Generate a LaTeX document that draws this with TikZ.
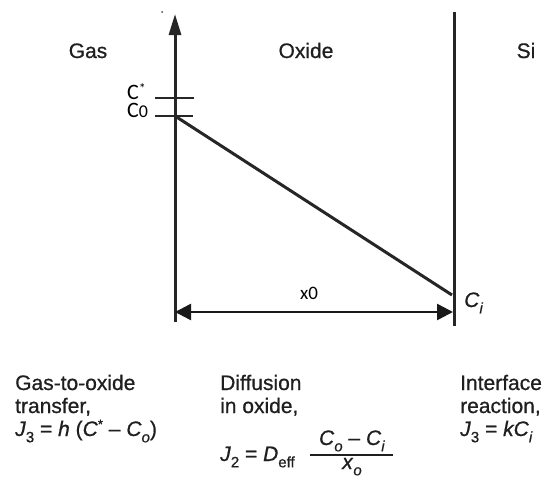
\documentclass[tikz,border=0pt]{standalone}
\usepackage{fontspec}
\setmainfont{Liberation Sans}[RawFeature={embolden=0.7}]
\newfontfamily\calfont{Carlito}
\usetikzlibrary{arrows.meta}
\newcommand{\sbs}[1]{\raisebox{-0.3em}{\fontsize{15}{15}\selectfont #1}}
\newcommand{\sps}[1]{\raisebox{0.35em}{\fontsize{13}{13}\selectfont #1}}
\begin{document}
\begin{tikzpicture}[x=1pt,y=-1pt,
  lbl/.style={font=\fontsize{21}{23}\selectfont, inner sep=0pt, text=black!88},
  ln/.style={lbl, anchor=base west},
  cal/.style={font=\calfont\fontsize{22}{24}\selectfont, inner sep=0pt, text=black},
  heavy/.style={line width=3pt, draw=black!85},
  tick/.style={line width=1.3pt, draw=black!85}]
\useasboundingbox (0,0) rectangle (547,479);
% axes
\coordinate (axB) at (175,322);
\coordinate (axT) at (175,14);
\coordinate (siT) at (454,12);
\coordinate (siB) at (454,326);
\draw[heavy, -{Triangle[length=21pt,width=12pt]}] (axB) -- (axT);
\draw[heavy] (siT) -- (siB);
\fill[black!70] (162,12) circle (1pt);
% ticks
\coordinate (csL) at (155,98); \coordinate (csR) at (194,98);
\coordinate (c0L) at (155,116); \coordinate (c0R) at (193,116);
\draw[tick] (csL) -- (csR);
\draw[tick] (c0L) -- (c0R);
% concentration line
\coordinate (p0) at (175,116);
\coordinate (pi) at (452,295);
\draw[heavy] (p0) -- (pi);
% dimension arrow
\coordinate (dL) at (175,312);
\coordinate (dR) at (453,312);
\draw[line width=2.5pt, draw=black!90, {Triangle[length=16pt,width=16pt]}-{Triangle[length=16pt,width=16pt]}] (dL) -- (dR);
% region labels
\node[lbl, anchor=base] (gas) at (88,58) {Gas};
\node[lbl, anchor=base] (oxide) at (306,58) {Oxide};
\node[lbl, anchor=base] (si) at (526,58) {Si};
% axis labels
\node[cal, anchor=base west] (cstar) at (127,99) {C\raisebox{0.25em}{\fontsize{14}{14}\selectfont *}};
\node[cal, anchor=base west] (czero) at (127,117) {C{\fontsize{18}{18}\selectfont 0}};
\node[cal, anchor=base west, font=\calfont\fontsize{19}{21}\selectfont] (xzero) at (300,299) {x0};
\node[ln] (ci) at (464,307) {\textit{C}\sbs{\textit{i}}};
% descriptions
\node[ln] (d1a) at (15,390) {Gas-to-oxide};
\node[ln] (d1b) at (15,413) {transfer,};
\node[ln] (d1c) at (15,436) {\textit{J}\sbs{3} = \textit{h} (\textit{C}\sps{*} -- \textit{C}\sbs{\textit{o}})};
\node[ln] (d2a) at (220,390) {Diffusion};
\node[ln] (d2b) at (220,413) {in oxide,};
\node[ln] (d3a) at (460,390) {Interface};
\node[ln] (d3b) at (460,413) {reaction,};
\node[ln] (d3c) at (460,436) {\textit{J}\sbs{3} = \textit{kC}\sbs{\textit{i}}};
\node[ln] (j2) at (220,461) {\textit{J}\sbs{2} = \textit{D}\sbs{eff}};
\node[lbl, anchor=base] (num) at (352,445) {\textit{C}\sbs{\textit{o}} -- \textit{C}\sbs{\textit{i}}};
\node[lbl, anchor=base] (den) at (352,469) {\textit{x}\sbs{\textit{o}}};
\coordinate (fL) at (310,455); \coordinate (fR) at (393,455);
\draw[line width=1.2pt, draw=black!88] (fL) -- (fR);
\end{tikzpicture}
\end{document}
